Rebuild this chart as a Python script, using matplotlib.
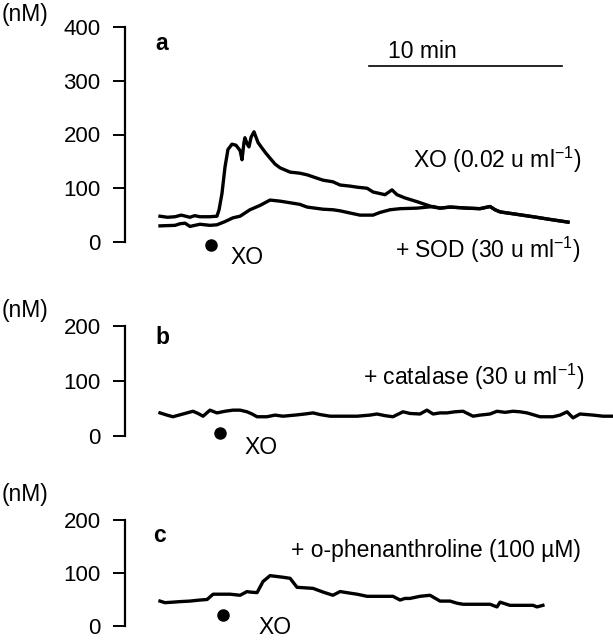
import numpy as np
import matplotlib
matplotlib.use('Agg')
import matplotlib.pyplot as plt

plt.rcParams['font.family'] = ['Liberation Sans', 'DejaVu Sans']
plt.rcParams['mathtext.fontset'] = 'custom'
plt.rcParams['mathtext.rm'] = 'Liberation Sans'
plt.rcParams['mathtext.it'] = 'Liberation Sans:italic'
plt.rcParams['mathtext.bf'] = 'Liberation Sans:bold'

# time in min, concentration in nM
# panel a, XO alone
t_xo = [0.0, 0.39, 0.78, 1.1, 1.55, 1.8, 2.07, 2.59, 2.95, 3.06, 3.21, 3.37, 3.52, 3.73,
        3.94, 4.15, 4.25, 4.35, 4.40, 4.51, 4.61, 4.72, 4.87, 5.08, 5.28, 5.49, 5.70,
        5.96, 6.22, 6.74, 7.25, 7.62, 8.03, 8.45, 8.96, 9.33, 9.84, 10.21, 10.73, 11.04,
        11.66, 12.02, 12.28, 12.69, 13.32, 13.73, 14.15, 14.51, 15.03, 15.91, 16.58,
        17.10, 17.36, 17.62, 18.39, 19.33, 20.21, 21.14]
v_xo = [48, 46, 47, 50, 46, 49, 47, 47, 48, 60, 90, 140, 172, 182,
        180, 170, 153, 185, 194, 183, 177, 195, 205, 185, 175, 165, 156,
        145, 138, 130, 128, 125, 120, 115, 112, 106, 104, 102, 100, 93,
        88, 97, 88, 82, 75, 70, 65, 63, 65, 63, 62,
        66, 60, 56, 52, 47, 42, 37]

# panel a, XO + SOD
t_sod = [0.0, 0.78, 1.04, 1.30, 1.55, 2.07, 2.59, 2.95, 3.37, 3.78, 4.15, 4.66, 5.18,
         5.70, 6.22, 6.74, 7.25, 7.62, 8.03, 8.45, 8.96, 9.33, 9.84, 10.36, 11.04, 11.40,
         11.92, 12.44, 13.32, 14.15, 14.51, 15.03, 15.91, 16.58, 17.10, 17.36, 17.62,
         18.39, 19.33, 20.21, 21.14]
v_sod = [30, 31, 34, 35, 29, 33, 31, 32, 38, 45, 48, 60, 68,
         78, 76, 73, 70, 65, 63, 61, 60, 58, 54, 50, 50, 55,
         60, 62, 63, 66, 63, 65, 63, 62, 66, 60, 56,
         52, 47, 42, 37]

# panel b, XO + catalase
t_cat = [0.0, 0.36, 0.67, 1.19, 1.71, 1.97, 2.23, 2.59, 2.95, 3.37, 3.78, 4.15, 4.51, 4.77,
         5.03, 5.54, 5.96, 6.37, 6.99, 7.51, 7.93, 8.29, 8.81, 10.21, 10.88, 11.24, 11.66,
         12.07, 12.59, 12.95, 13.47, 13.83, 14.15, 14.51, 14.87, 15.28, 15.70, 16.22, 16.58,
         17.10, 17.46, 17.88, 18.29, 18.65, 19.02, 19.69, 20.36, 20.73, 21.09, 21.40, 21.76,
         22.44, 22.95, 23.47]
v_cat = [42, 38, 35, 40, 45, 41, 36, 47, 42, 45, 47, 47, 44, 40,
         35, 35, 38, 36, 38, 40, 42, 39, 36, 36, 38, 40, 37,
         35, 44, 41, 40, 47, 40, 42, 42, 44, 45, 36, 38,
         40, 45, 43, 45, 44, 42, 35, 35, 38, 44, 33, 40,
         38, 36, 36]

# panel c, XO + o-phenanthroline
t_phen = [0.0, 0.26, 0.67, 1.04, 1.55, 2.07, 2.44, 2.75, 3.63, 4.15, 4.51, 4.66, 5.03, 5.34,
          5.70, 6.37, 6.74, 7.10, 7.93, 8.45, 8.96, 9.33, 9.84, 10.21, 10.73, 11.55, 12.07,
          12.44, 12.69, 12.95, 13.47, 13.99, 14.51, 15.03, 15.39, 15.70, 17.10, 17.46, 17.62,
          18.13, 19.33, 19.53, 19.84]
v_phen = [47, 44, 45, 46, 47, 49, 50, 60, 60, 58, 65, 64, 63, 84,
          95, 92, 90, 73, 71, 64, 58, 65, 62, 60, 56, 56, 56,
          49, 52, 52, 56, 58, 47, 47, 43, 41, 41, 36, 45,
          39, 39, 36, 39]

xo_time = [2.64, 3.11, 3.26]
scale_bar = [10.83, 20.83]

W, H = 613, 640
PX = 19.3  # pixels per minute

fig = plt.figure(figsize=(W / 100, H / 100), dpi=100)


def fpos(x, y):
    return x / W, 1 - y / H


def make_axes(top, bottom, ymax, step):
    ax = fig.add_axes([125 / W, 1 - bottom / H, 488 / W, (bottom - top) / H])
    ax.set_xlim(-35 / PX, 453 / PX)
    ax.set_ylim(0, ymax)
    for s in ['top', 'right', 'bottom']:
        ax.spines[s].set_visible(False)
    ax.spines['left'].set_linewidth(1.6)
    ax.set_xticks([])
    ax.set_yticks(np.arange(0, ymax + 1, step))
    ax.tick_params(axis='y', length=8.6, width=1.4, pad=9, labelsize=16)
    ax.patch.set_alpha(0)
    return ax


ax_a = make_axes(27, 242, 400, 100)
ax_b = make_axes(326, 436, 200, 100)
ax_c = make_axes(520, 626, 200, 100)

lw = 2.4
ax_a.plot(t_xo, v_xo, color='black', lw=lw, clip_on=False)
ax_a.plot(t_sod, v_sod, color='black', lw=lw, clip_on=False)
ax_b.plot(t_cat, v_cat, color='black', lw=lw, clip_on=False)
ax_c.plot(t_phen, v_phen, color='black', lw=lw, clip_on=False)

ax_a.plot(xo_time[0], -6, 'o', ms=8, color='black', clip_on=False)
ax_b.plot(xo_time[1], 5, 'o', ms=8, color='black', clip_on=False)
ax_c.plot(xo_time[2], 20, 'o', ms=8, color='black', clip_on=False)

ax_a.plot(scale_bar, [327, 327], color='black', lw=1.2)

fs = 16.5
for y in [15, 311, 494]:
    fig.text(*fpos(2, y), '(nM)', fontsize=fs, ha='left', va='center')

fig.text(*fpos(155, 43), 'a', fontsize=fs, fontweight='bold', ha='left', va='center')
fig.text(*fpos(155, 337), 'b', fontsize=fs, fontweight='bold', ha='left', va='center')
fig.text(*fpos(153, 535), 'c', fontsize=fs, fontweight='bold', ha='left', va='center')

fig.text(*fpos(422, 52), '10 min', fontsize=fs, ha='center', va='center')
fig.text(*fpos(581, 160), r'XO (0.02 u ml$^{-1}$)', fontsize=fs, ha='right', va='center')
fig.text(*fpos(581, 250), r'+ SOD (30 u ml$^{-1}$)', fontsize=fs, ha='right', va='center')
fig.text(*fpos(584, 377), r'+ catalase (30 u ml$^{-1}$)', fontsize=fs, ha='right', va='center')
fig.text(*fpos(581, 550), '+ o-phenanthroline (100 \u00b5M)', fontsize=fs, ha='right', va='center')

fig.text(*fpos(247, 257), 'XO', fontsize=fs, ha='center', va='center')
fig.text(*fpos(261, 448), 'XO', fontsize=fs, ha='center', va='center')
fig.text(*fpos(275, 628), 'XO', fontsize=fs, ha='center', va='center')

fig.savefig('out.png', dpi=100)
